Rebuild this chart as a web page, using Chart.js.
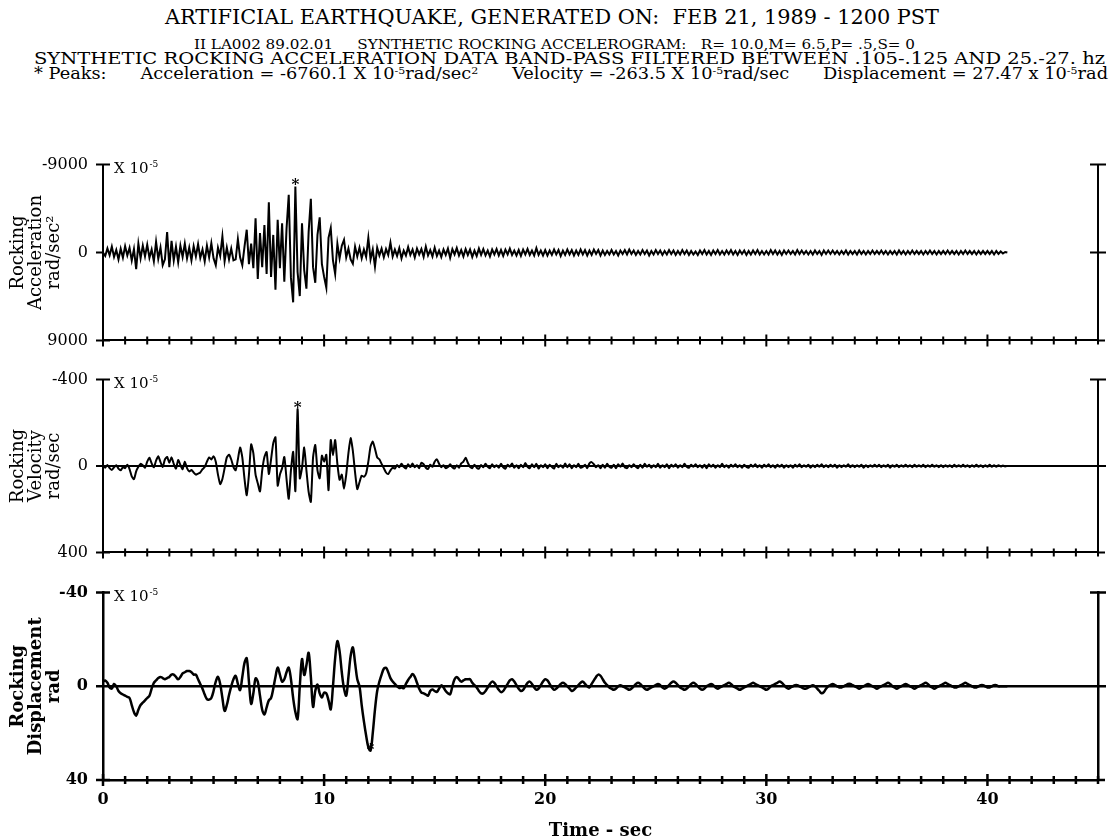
<!DOCTYPE html>
<html>
<head>
<meta charset="utf-8">
<script src="https://cdn.jsdelivr.net/npm/chart.js@4.4.1/dist/chart.umd.min.js"></script>
<style>
  html, body { margin: 0; padding: 0; background: #fff; }
  body { width: 1116px; height: 838px; position: relative; overflow: hidden; }
  canvas { position: absolute; left: 0; }
  .hl { position: absolute; white-space: pre; line-height: 1; transform-origin: 0 0;
        font-family: "DejaVu Serif", serif; color: #000; }
  .hl sup { font-size: 0.62em; line-height: 0; vertical-align: 0.55em; }
</style>
</head>
<body>
<div class="hl" style="top:7px;font-size:21px" data-l="165" data-r="939">ARTIFICIAL EARTHQUAKE, GENERATED ON:  FEB 21, 1989 - 1200 PST</div>
<div class="hl" style="top:38px;font-size:13.5px" data-l="194" data-r="915">II LA002 89.02.01     SYNTHETIC ROCKING ACCELEROGRAM:   R= 10.0,M= 6.5,P= .5,S= 0</div>
<div class="hl" style="top:51px;font-size:16.5px" data-l="34" data-r="1105">SYNTHETIC ROCKING ACCELERATION DATA BAND-PASS FILTERED BETWEEN .105-.125 AND 25.-27. hz</div>
<div class="hl" style="top:66px;font-size:16px" data-l="34" data-r="1108">* Peaks:      Acceleration = -6760.1 X 10<sup>-5</sup>rad/sec<sup>2</sup>      Velocity = -263.5 X 10<sup>-5</sup>rad/sec      Displacement = 27.47 x 10<sup>-5</sup>rad</div>

<canvas id="acc" width="1116" height="225" style="top:140px"></canvas>
<canvas id="vel" width="1116" height="222" style="top:355px"></canvas>
<canvas id="disp" width="1116" height="277" style="top:568px"></canvas>

<script>
const dt = 0.1;

// rocking acceleration, x 10^-5 rad/sec^2, one row per second
const accValues = [
  0, 350, -420, 280, -600, 450, -250, 700, -380, 520,
  -650, 300, -480, 820, -350, 1700, -900, 600, -700, 400,
  -800, 550, -300, 900, -1100, 650, -500, 1300, 700, -2100,
  1500, -1200, 800, -600, 1000, -700, 450, -900, 600, -500,
  800, -650, 400, -850, 550, -300, 900, -700, 500, -950,
  600, 1300, -500, 350, -1640, 900, -500, 700, -400, 800,
  700, -1360, 500, 1300, -600, -2330, 1200, -900, 1600, -3500,
  2700, -2000, 1500, -2800, 2200, -5140, 2500, -1800, 3800, -3350,
  1600, -3000, 3000, -2400, -5900, 2600, 5100, -6760.1, 2000, 4460,
  -3000, 1800, 3700, -2100, -5500, 1500, 3100, -1800, -3600, 1200,
  2500, 3600, -1500, -2500, 800, 2200, -900, 600, -700, -1300,
  500, -400, 700, 1150, -600, 400, -500, 600, -300, 450,
  -1500, 700, -300, 1450, -500, 300, -400, 500, -350, 250,
  -1000, 400, -300, 350, -450, 600, -200, 300, -550, 250,
  -300, 500, -400, 200, -350, 450, -600, 300, -250, 400,
  -500, 350, -200, 450, -300, 250, -400, 550, -350, 200,
  -450, 300, -250, 400, -350, 250, -300, 450, -200, 350,
  -400, 250, -350, 300, -200, 400, -300, 200, -350, 300,
  -250, 350, -300, 200, -400, 250, -200, 300, -250, 350,
  -300, 200, -350, 250, -200, 300, -450, 250, -200, 300,
  -250, 300, -200, 250, -300, 200, -250, 350, -200, 250,
  -300, 200, -250, 300, -200, 250, -300, 200, -250, 300,
  -200, 250, -300, 150, -250, 300, -200, 250, -150, 200,
  -250, 200, -150, 300, -200, 150, -250, 200, -300, 150,
  -200, 250, -150, 200, -250, 150, -200, 300, -150, 200,
  -250, 150, -200, 250, -150, 200, -250, 150, -200, 250,
  -150, 200, -250, 150, -200, 250, -150, 200, -100, 250,
  -200, 150, -250, 200, -150, 250, -200, 150, -250, 200,
  -150, 200, -200, 150, -250, 200, -150, 250, -200, 150,
  -200, 250, -150, 200, -200, 150, -250, 200, -150, 200,
  -150, 200, -250, 150, -200, 200, -150, 250, -200, 150,
  -200, 150, -150, 200, -250, 150, -200, 150, -150, 200,
  -150, 200, -200, 150, -150, 250, -200, 150, -200, 150,
  -200, 150, -150, 200, -150, 150, -200, 200, -150, 150,
  -150, 200, -200, 150, -150, 200, -150, 150, -200, 150,
  -150, 150, -200, 150, -150, 200, -150, 150, -150, 200,
  -200, 150, -150, 200, -150, 150, -200, 150, -150, 150,
  -150, 200, -150, 150, -200, 150, -150, 200, -150, 150,
  -150, 150, -200, 150, -150, 150, -150, 200, -150, 150,
  -200, 150, -150, 150, -150, 200, -150, 150, -150, 150,
  -150, 150, -150, 200, -150, 150, -100, 100, -50, 0
];

// rocking velocity, x 10^-5 rad/sec
const velValues = [
  0, 8, -5, 10, 18, 6, -4, 12, 20, 5,
  10, -6, 14, 48, 61, 25, 4, -10, -4, 8,
  -20, -38, -12, 6, -25, -45, -18, 4, -30, -42,
  -15, -40, -10, 12, -28, -5, 15, -20, 10, 25,
  18, 30, 40, 35, 30, 15, 5, -20, -40, -30,
  -45, -20, 40, 84, 60, 10, -40, -52, -30, 5,
  20, -30, -86, -40, 60, 135, 40, -100, -60, 40,
  80, 118, 20, -42, -65, 37, -30, -106, -133, 91,
  40, 10, -42, 60, 152, 20, -65, 116, -263.5, 57,
  10, -86, 20, 120, 166, -40, -97, 20, 57, -48,
  -20, -52, 112, -120, -50, -120, -10, 64, 40, 105,
  40, -60, -129, -70, 30, 107, 75, 45, 50, 35,
  -20, -90, -113, -80, -40, -31, -10, 10, 30, 37,
  20, 8, 12, -5, 6, -10, 4, 12, -8, 5,
  -12, 6, -4, 10, -15, -8, 8, 14, -6, 4,
  -20, -31, -10, 6, -4, 10, 5, -8, 6, 12,
  -4, 8, -12, -20, -38, -15, 4, 10, -6, 8,
  12, -5, 6, -10, 4, 10, -8, 6, -4, 8,
  -10, 6, 12, -6, 4, -12, 8, -4, 10, -6,
  6, -14, 4, 10, -8, 6, -10, 12, -4, 6,
  -8, 10, -6, 4, 12, -10, 6, -4, 8, -12,
  6, -8, 10, -4, 6, -10, 8, 4, -6, 10,
  -12, -18, -8, 6, -4, 10, -6, 8, -10, 4,
  8, -6, 10, -8, 4, -12, 6, 10, -4, 6,
  -8, 4, 10, -6, 8, -10, 4, -6, 8, -4,
  6, -10, 8, -4, 6, -8, 10, -6, 4, -8,
  8, -4, 6, -10, 4, 8, -6, 4, -8, 6,
  -4, 8, -6, 10, -8, 4, -6, 8, -4, 6,
  -10, 6, -4, 8, -6, 4, -8, 6, -4, 8,
  -6, 4, 8, -6, 4, -8, 6, -4, 8, -6,
  4, -8, 6, -4, 8, -6, 4, -6, 8, -4,
  6, -4, 8, -6, 4, -8, 6, -4, 4, -6,
  8, -4, 6, -6, 4, -8, 6, -4, 6, -6,
  4, -6, 8, -4, 6, -4, 4, -8, 6, -4,
  6, -4, 4, -6, 8, -4, 6, -4, 4, -6,
  4, -6, 6, -4, 4, -6, 8, -4, 4, -6,
  6, -4, 4, -6, 4, -4, 6, -6, 4, -4,
  4, -6, 6, -4, 4, -6, 4, -4, 6, -4,
  6, -4, 4, -4, 6, -6, 4, -4, 4, -6,
  4, -4, 6, -4, 4, -6, 4, -4, 6, -4,
  4, -6, 4, -4, 4, -4, 2, -2, 2, 0
];

// rocking displacement, x 10^-5 rad
const dispValues = [
  -2, -2.5, -1.5, 0.5, 1, -1, 0, 2, 3, 3.5,
  4, 4.5, 5, 8, 11, 12.5, 10, 8, 7, 6,
  5, 4, 1, -1.5, -2.5, -3.5, -4, -3.5, -3, -3.5,
  -4, -5, -5, -4, -3, -4, -5.5, -6, -6.5, -6.5,
  -6, -5, -5, -3, -1, 1, 3.5, 5.5, 5.7, 5,
  2, -2, -4, -1, 5, 10.5, 8, 3.7, 0, -3,
  -4.5, -1, 1.6, -4, -10, -12, -2, 7.5, 3, -3.4,
  -2, 4, 10, 12, 9, 6, 5, 1, -4, -8,
  -5, -2, -3, -6, -8, -3, 5, 11, 14, 0,
  -11.6, -4.8, -9, -14.3, -4, 8.8, 2, -0.7, 3, 4.8,
  2.7, 3, 6, 9.8, 0, -12, -19.3, -15, -6, 1,
  4, -4, -13, -16.6, -10, -3, 0, 8, 15, 21,
  26, 27.47, 20, 10, 2, -2, -5, -7.5, -7.9, -6,
  -3.5, -2, -1, 0, 0.7, 0.5, 0.8, -1, -2.7, -4,
  -5.2, -4, -1.5, 1, 2.7, 3, 3.5, 4, 2, 1.4,
  2, 2.4, 1, -0.4, 0.5, 2, 3, 3.4, 0, -3,
  -4, -3, -2, -2.5, -3, -3, -3, -1.5, -0.5, 0.5,
  2, 3, 3, 2, 0.5, -1, -2, -1.5, 0, 1.5,
  2.5, 2, 0.5, -1, -2.5, -3, -2, -0.5, 1, 2,
  1.5, 0, -1.5, -2, -1, 0.5, 1.5, 1, -0.5, -2,
  -3, -2.5, -1, 0.5, 1.5, 1, 0, -1, -1.5, -1,
  0, 1, 2, 1.5, 0.5, -0.5, -1.5, -2, -1, 0,
  0.5, -1, -2.5, -4, -5, -4.5, -3, -1.5, -0.5, 0.5,
  1, 1.5, 1, 0, -0.5, 0, 0.5, 1, 1.5, 1,
  0, -1, -1.5, -1, 0, 1, 1.5, 1, 0.5, 0,
  -0.5, -1, -0.5, 0.5, 1, 0.5, -0.5, -1.5, -2, -1.5,
  -0.5, 0.5, 1, 1.5, 1, 0, -1, -1.5, -1, 0,
  1, 1.5, 1, 0, -0.5, -1, -0.5, 0.5, 1, 0.5,
  0, -0.5, -1, -1.5, -1, 0, 0.5, 1, 1.5, 1,
  0.5, 0, -0.5, -1, -1.5, -1, -0.5, 0, 0.5, 1,
  1.5, 1, 0, -0.5, -1, -1.5, -2, -1.5, -0.5, 0.5,
  1, 0.5, 0, -0.5, -0.5, 0, 0.5, 1, 1, 0.5,
  0, -0.5, 0, 1, 2, 3, 2.5, 1, 0, -0.5,
  -1, -0.5, 0, 0.5, 0.5, 0, -0.5, -1, -1, -0.5,
  0, 0.5, 1, 0.5, 0, -0.5, -1, -0.5, 0, 0.5,
  1, 0.5, 0, -0.5, -1, -1.5, -1, 0, 0.5, 1,
  0.5, 0, -0.5, -1, -0.5, 0, 0.5, 1, 0.5, 0,
  -0.5, -1, -1.5, -1, 0, 0.5, 1, 0.5, 0, -0.5,
  -1, -1.5, -1, -0.5, 0, 0.5, 0.5, 0, -0.5, -1,
  -1.5, -1, -0.5, 0, 0.5, 0.5, 0, -0.5, -0.5, 0,
  0.5, 0.5, 0, -0.5, -0.5, 0, 0, 0, 0, 0
];

// y tick values for each panel (top, zero, bottom)
const accTicks = [-9000, 0, 9000];
const velTicks = [-400, 0, 400];
const dispTicks = [-40, 0, 40];
// labelled seconds on the time axis
const timeLabels = [0, 10, 20, 30, 40];
// peaks marked with '*': acceleration, velocity, displacement
const peakTimes = [8.7, 8.8, 12.1];
const peakValues = [-6760.1, -263.5, 27.47];

// stretch each header line across the span it covers in the scan
document.querySelectorAll('.hl').forEach(el => {
  const l = +el.dataset.l, r = +el.dataset.r;
  el.style.left = l + 'px';
  el.style.transform = 'scaleX(' + ((r - l) / el.getBoundingClientRect().width) + ')';
});

Chart.defaults.font.family = '"DejaVu Serif", serif';
Chart.defaults.color = '#000';

// tick crosses, right-axis caps, zero lines, scale note and peak star
const frameMarks = {
  id: 'frameMarks',
  afterDatasetsDraw(chart, args, opts) {
    const { ctx, chartArea: a, scales: { x, y } } = chart;
    const y0 = y.getPixelForValue(0);
    ctx.save();
    ctx.strokeStyle = '#000';
    ctx.lineWidth = opts.lineWidth;
    ctx.beginPath();
    x.ticks.forEach(t => {
      const px = x.getPixelForValue(t.value);
      const h = t.value % 10 === 0 ? 6 : 4;
      ctx.moveTo(px, a.bottom - h);
      ctx.lineTo(px, a.bottom + h);
    });
    y.ticks.forEach(t => {
      const py = y.getPixelForValue(t.value);
      ctx.moveTo(a.left - 7, py);
      ctx.lineTo(a.left + (t.value === 0 ? 0 : 7), py);
    });
    ctx.moveTo(a.right - 8, a.top);
    ctx.lineTo(a.right + 8, a.top);
    ctx.moveTo(a.right - 8, y0);
    ctx.lineTo(a.right + 8, y0);
    ctx.moveTo(a.left - 6, a.bottom);
    ctx.lineTo(a.left, a.bottom);
    ctx.moveTo(a.right, a.bottom);
    ctx.lineTo(a.right + 7, a.bottom);
    if (opts.zeroLine) {
      ctx.moveTo(a.left - 7, y0);
      ctx.lineTo(a.right + 7, y0);
    }
    ctx.stroke();

    ctx.fillStyle = '#000';
    ctx.textAlign = 'left';
    ctx.textBaseline = 'alphabetic';
    ctx.font = '15px "DejaVu Serif"';
    ctx.fillText('X 10', a.left + 11, a.top + 8);
    const w = ctx.measureText('X 10').width;
    ctx.font = '9px "DejaVu Serif"';
    ctx.fillText('-5', a.left + 12 + w, a.top + 2);

    // star sits just above the peak sample
    const px = x.getPixelForValue(opts.peak[0]);
    const py = y.getPixelForValue(opts.peak[1]);
    ctx.font = 'bold 15px "DejaVu Serif"';
    ctx.textAlign = 'center';
    ctx.fillText('*', px, py - 6 + 9);
    ctx.restore();
  }
};

function makePanel(id, values, yTicks, cfg) {
  const points = values.map((v, i) => ({ x: Math.round(i * dt * 10) / 10, y: v }));
  return new Chart(document.getElementById(id), {
    type: 'line',
    data: {
      datasets: [{
        data: points,
        borderColor: '#000',
        borderWidth: cfg.lineWidth,
        pointRadius: 0,
        tension: cfg.tension,
        fill: false
      }]
    },
    options: {
      responsive: false,
      animation: false,
      events: [],
      layout: { padding: { top: cfg.padTop, left: 0, right: 0, bottom: 0 } },
      plugins: {
        legend: { display: false },
        tooltip: { enabled: false },
        frameMarks: { lineWidth: cfg.axisWidth, zeroLine: cfg.zeroLine, peak: cfg.peak }
      },
      scales: {
        x: {
          type: 'linear',
          min: 0,
          max: 45,
          afterFit: s => { s.height = cfg.xHeight; },
          grid: { display: false, drawTicks: false },
          border: { color: '#000', width: cfg.axisWidth },
          ticks: {
            display: cfg.showTime,
            stepSize: 1,
            autoSkip: false,
            maxRotation: 0,
            padding: 10,
            font: { size: 16, weight: 'bold' },
            callback: v => timeLabels.includes(v) ? String(v) : ''
          },
          title: {
            display: cfg.showTime,
            text: 'Time - sec',
            font: { size: 18, weight: 'bold', lineHeight: 1 },
            padding: { top: 0, bottom: 5 }
          }
        },
        y: {
          type: 'linear',
          position: 'left',
          reverse: true,
          min: yTicks[0],
          max: yTicks[yTicks.length - 1],
          afterBuildTicks: s => { s.ticks = yTicks.map(value => ({ value })); },
          afterFit: s => { s.width = 103; },
          grid: { display: false, drawTicks: false },
          border: { color: '#000', width: cfg.axisWidth },
          ticks: { padding: 15, font: { size: 16, weight: cfg.weight }, callback: v => String(v) },
          title: {
            display: true,
            text: cfg.title,
            font: { size: 18, weight: cfg.weight, lineHeight: 1 },
            padding: { top: 9, bottom: 0 }
          }
        },
        yR: {
          type: 'linear',
          position: 'right',
          reverse: true,
          min: yTicks[0],
          max: yTicks[yTicks.length - 1],
          afterFit: s => { s.width = 18; },
          grid: { display: false, drawTicks: false },
          border: { color: '#000', width: cfg.axisWidth },
          ticks: { display: false }
        }
      }
    },
    plugins: [frameMarks]
  });
}

makePanel('acc', accValues, accTicks, {
  title: ['Rocking', 'Acceleration', 'rad/sec²'], weight: 'normal',
  lineWidth: 2, axisWidth: 2, tension: 0, padTop: 19, xHeight: 12,
  showTime: false, zeroLine: false, peak: [peakTimes[0], peakValues[0]]
});
makePanel('vel', velValues, velTicks, {
  title: ['Rocking', 'Velocity', 'rad/sec'], weight: 'normal',
  lineWidth: 2, axisWidth: 2, tension: 0.2, padTop: 14, xHeight: 12,
  showTime: false, zeroLine: true, peak: [peakTimes[1], peakValues[1]]
});
makePanel('disp', dispValues, dispTicks, {
  title: ['Rocking', 'Displacement', 'rad'], weight: 'bold',
  lineWidth: 2.5, axisWidth: 2.5, tension: 0.35, padTop: 14, xHeight: 65,
  showTime: true, zeroLine: true, peak: [peakTimes[2], peakValues[2]]
});
</script>
</body>
</html>
